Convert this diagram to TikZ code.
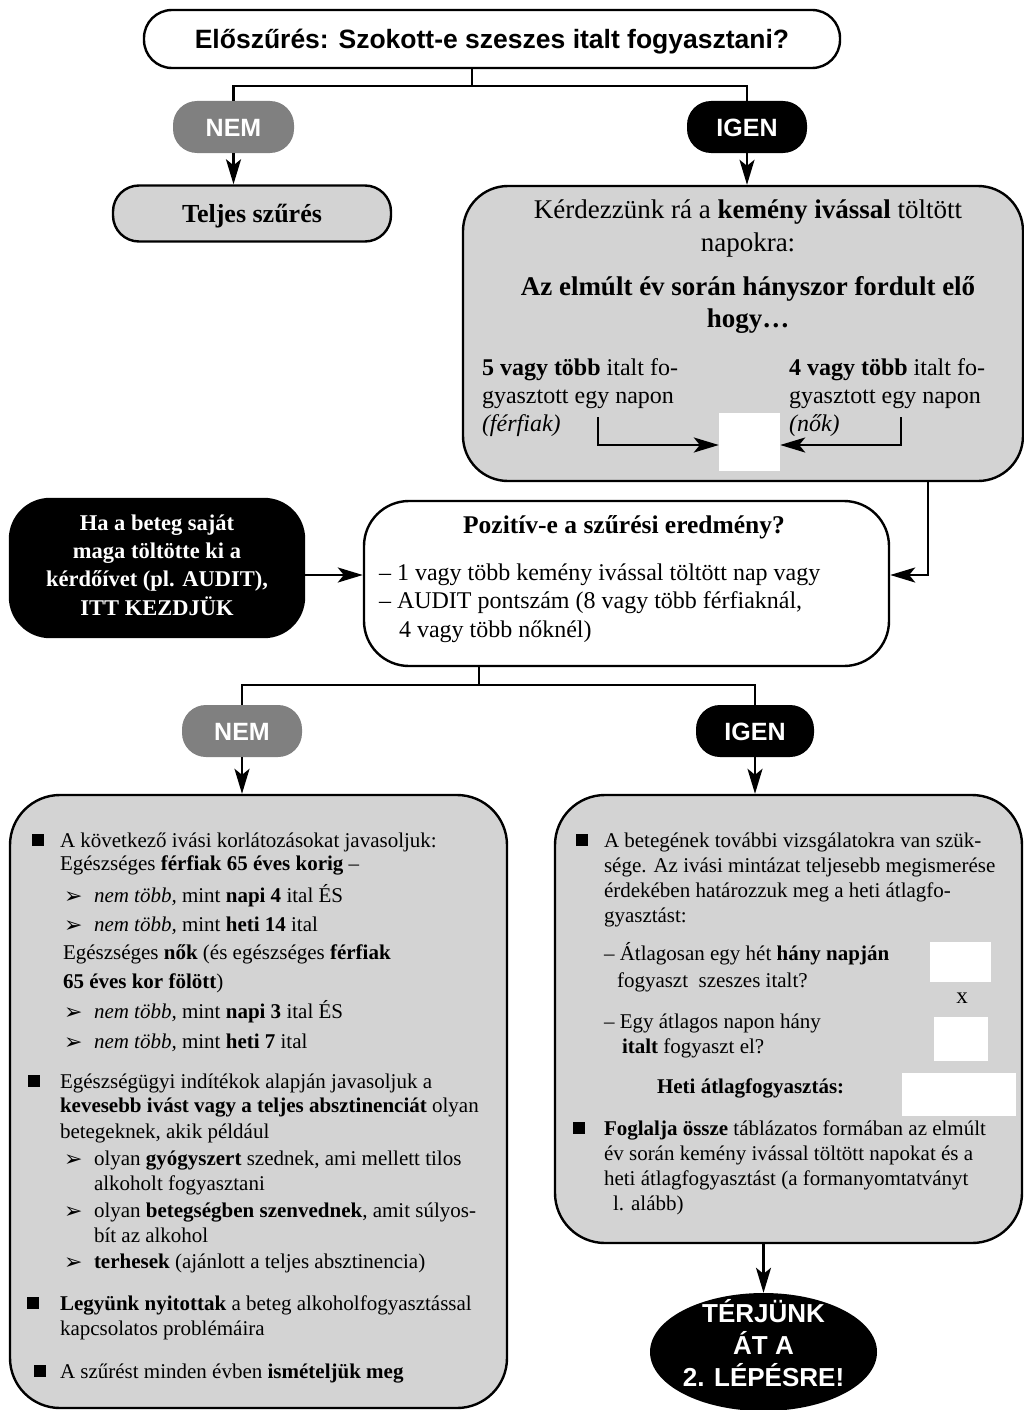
\documentclass[tikz,border=0pt]{standalone}
\usepackage{fontspec}
\setmainfont{Liberation Serif}
\setsansfont{Liberation Sans}
\newfontfamily\dvf{DejaVu Sans}
\usetikzlibrary{arrows.meta,shapes.geometric,calc}
\definecolor{boxgray}{HTML}{D3D3D3}
\definecolor{pillgray}{HTML}{808080}
\newcommand\fs[1]{\fontsize{#1}{#1}\selectfont}
\newcommand\mytx[4]{\node[L] (#1) at (#2,#3) {#4};}
\newcommand\myct[4]{\node[C] (#1) at (#2,#3) {#4};}
\newcommand\mybul[3]{\node[bul] (#1) at (#2,#3) {};}
\newcommand\myarr[3]{\node[L] (#1) at (#2,#3) {\dvf\fs{22}➢};}
\begin{document}
\begin{tikzpicture}[x=1pt,y=-1pt,
  shp/.style={draw=black, line width=2.4pt, inner sep=0pt},
  pill/.style={draw=none, rounded corners=24pt, minimum height=52pt, inner sep=0pt,
    text=white, font=\sffamily\bfseries\fs{25}, text height=18pt, text depth=0pt},
  wbox/.style={fill=white, draw=none, inner sep=0pt},
  ln/.style={line width=2.4pt},
  arr/.style={line width=2.4pt, -{Stealth[length=25pt,width=15pt,inset=6pt]}},
  L/.style={anchor=base west, inner sep=0pt, outer sep=0pt},
  C/.style={anchor=base, inner sep=0pt, outer sep=0pt},
  bul/.style={fill=black, draw=none, minimum size=12pt, inner sep=0pt}]
\useasboundingbox (0,0) rectangle (1024,1410);
\fill[white] (0,0) rectangle (1024,1410);

% ---------- shapes ----------
\node[shp, fill=white, rounded corners=28pt, minimum width=696pt, minimum height=58pt,
  font=\sffamily\bfseries\fs{26.5}, text height=19pt, text depth=0pt] (tb) at (492,39)
  {Előszűrés: Szokott-e szeszes italt fogyasztani?};
\node[pill, fill=pillgray, minimum width=121pt] (nem1) at (233.5,127) {NEM};
\node[pill, fill=black, minimum width=120pt] (igen1) at (747,127) {IGEN};
\node[shp, fill=boxgray, rounded corners=26pt, minimum width=278pt, minimum height=56pt,
  font=\bfseries\fs{26}, text height=17pt, text depth=0pt] (telj) at (252,213.5) {Teljes szűrés};
\node[shp, fill=boxgray, rounded corners=45pt, minimum width=560pt, minimum height=295pt] (kb) at (743,333.5) {};
\node[wbox, minimum width=61pt, minimum height=58pt] (sq) at (749.5,442) {};
\node[shp, fill=black, rounded corners=40pt, minimum width=294pt, minimum height=138pt] (bb) at (157,568) {};
\node[shp, fill=white, rounded corners=45pt, minimum width=525pt, minimum height=165pt] (poz) at (626.5,583.5) {};
\node[pill, fill=pillgray, minimum width=120pt] (nem2) at (242,731) {NEM};
\node[pill, fill=black, minimum width=118pt] (igen2) at (755,731) {IGEN};
\node[shp, fill=boxgray, rounded corners=50pt, minimum width=497pt, minimum height=613pt] (lb) at (258.5,1101.5) {};
\node[shp, fill=boxgray, rounded corners=50pt, minimum width=467pt, minimum height=448pt] (rb) at (788.5,1019) {};
\node[wbox, minimum width=61pt, minimum height=40pt] (w1) at (960.5,962) {};
\node[wbox, minimum width=54pt, minimum height=44pt] (w2) at (961,1039) {};
\node[wbox, minimum width=114pt, minimum height=43pt] (w3) at (959,1094.5) {};
\node[ellipse, fill=black, draw=none, minimum width=227pt, minimum height=118pt, inner sep=0pt] (ell) at (763.5,1352) {};

% ---------- connectors ----------
\coordinate (j1) at (472,86);
\draw[ln] (tb.south -| j1) -- (j1);
\draw[ln] (nem1.north) |- (j1) -| (igen1.north);
\draw[arr] (nem1.south) -- (nem1.south |- telj.north);
\draw[arr] (igen1.south) -- (igen1.south |- kb.north);
\coordinate (a1) at (598,417);
\coordinate (a2) at (901,417);
\draw[arr] (a1) |- ([yshift=-3pt]sq.west);
\draw[arr] (a2) |- ([yshift=-3pt]sq.east);
\coordinate (k1) at (928,575);
\draw[arr] (kb.south -| k1) -- (k1) -- (k1 -| poz.east);
\draw[arr] (bb.east |- k1) -- (poz.west |- k1);
\coordinate (j2) at (479,685);
\draw[ln] (poz.south -| j2) -- (j2);
\draw[ln] (nem2.north) |- (j2) -| (igen2.north);
\draw[arr] (nem2.south) -- (nem2.south |- lb.north);
\draw[arr] (igen2.south) -- (igen2.south |- rb.north);
\draw[arr] (rb.south -| ell.north) -- (ell.north);

% ---------- texts: screening question box ----------
\begin{scope}[font=\fs{27}]
\myct{kt1}{748}{218}{Kérdezzünk rá a \textbf{kemény ivással} töltött}
\myct{kt2}{748}{251}{napokra:}
\myct{kt3}{748}{295}{\textbf{Az elmúlt év során hányszor fordult elő}}
\myct{kt4}{748}{327}{\textbf{hogy…}}
\end{scope}
\begin{scope}[font=\fs{24}]
\mytx{kl1}{482}{375}{\textbf{5 vagy több} italt fo-}
\mytx{kl2}{482}{403}{gyasztott egy napon}
\mytx{kl3}{482}{431}{\textit{(férfiak)}}
\mytx{kr1}{789}{375}{\textbf{4 vagy több} italt fo-}
\mytx{kr2}{789}{403}{gyasztott egy napon}
\mytx{kr3}{789}{431}{\textit{(nők)}}
\end{scope}

% ---------- black box ----------
\begin{scope}[font=\bfseries\fs{22.5}, text=white]
\myct{bt1}{157}{530}{Ha a beteg saját}
\myct{bt2}{157}{558}{maga töltötte ki a}
\myct{bt3}{157}{586}{kérdőívet (pl. AUDIT),}
\myct{bt4}{157}{615}{ITT KEZDJÜK}
\end{scope}

% ---------- positive box ----------
\myct{pt0}{624}{533}{\bfseries\fs{25.5}Pozitív-e a szűrési eredmény?}
\begin{scope}[font=\fs{24}]
\mytx{pt1}{379}{580}{– 1 vagy több kemény ivással töltött nap vagy}
\mytx{pt2}{379}{608}{– AUDIT pontszám (8 vagy több férfiaknál,}
\mytx{pt3}{399}{637}{4 vagy több nőknél)}
\end{scope}

% ---------- left bottom box ----------
\begin{scope}[font=\fs{21}]
\mybul{lb1}{37.5}{840}
\mytx{l1}{60}{847}{A következő ivási korlátozásokat javasoljuk:}
\mytx{l2}{60}{870}{Egészséges \textbf{férfiak 65 éves korig} –}
\myarr{la1}{64}{903}
\mytx{l3}{94}{902}{\textit{nem több,} mint \textbf{napi 4} ital ÉS}
\myarr{la2}{64}{932}
\mytx{l4}{94}{931}{\textit{nem több,} mint \textbf{heti 14} ital}
\mytx{l5}{63}{959}{Egészséges \textbf{nők} (és egészséges \textbf{férfiak}}
\mytx{l6}{63}{988}{\textbf{65 éves kor fölött})}
\myarr{la3}{64}{1019}
\mytx{l7}{94}{1018}{\textit{nem több,} mint \textbf{napi 3} ital ÉS}
\myarr{la4}{64}{1049}
\mytx{l8}{94}{1048}{\textit{nem több,} mint \textbf{heti 7} ital}
\mybul{lb2}{34}{1081}
\mytx{l9}{60}{1088}{Egészségügyi indítékok alapján javasoljuk a}
\mytx{l10}{60}{1112}{\textbf{kevesebb ivást vagy a teljes absztinenciát} olyan}
\mytx{l11}{60}{1138}{betegeknek, akik például}
\myarr{la5}{64}{1166}
\mytx{l12}{94}{1165}{olyan \textbf{gyógyszert} szednek, ami mellett tilos}
\mytx{l13}{94}{1190}{alkoholt fogyasztani}
\myarr{la6}{64}{1218}
\mytx{l14}{94}{1217}{olyan \textbf{betegségben szenvednek}, amit súlyos-}
\mytx{l15}{94}{1242}{bít az alkohol}
\myarr{la7}{64}{1269}
\mytx{l16}{94}{1268}{\textbf{terhesek} (ajánlott a teljes absztinencia)}
\mybul{lb3}{33}{1303}
\mytx{l17}{60}{1310}{\textbf{Legyünk nyitottak} a beteg alkoholfogyasztással}
\mytx{l18}{60}{1335}{kapcsolatos problémáira}
\mybul{lb4}{40}{1371}
\mytx{l19}{60}{1378}{A szűrést minden évben \textbf{ismételjük meg}}
\end{scope}

% ---------- right bottom box ----------
\begin{scope}[font=\fs{21}]
\mybul{rb1}{582}{840}
\mytx{r1}{604}{847}{A betegének további vizsgálatokra van szük-}
\mytx{r2}{604}{872}{sége. Az ivási mintázat teljesebb megismerése}
\mytx{r3}{604}{897}{érdekében határozzuk meg a heti átlagfo-}
\mytx{r4}{604}{922}{gyasztást:}
\mytx{r5}{604}{960}{– Átlagosan egy hét \textbf{hány napján}}
\mytx{r6}{617}{987}{fogyaszt\ \ szeszes italt?}
\myct{rx}{962}{1003}{\fs{23}x}
\mytx{r7}{604}{1028}{– Egy átlagos napon hány}
\mytx{r8}{622}{1053}{\textbf{italt} fogyaszt el?}
\mytx{r9}{657}{1093}{\textbf{Heti átlagfogyasztás:}}
\mybul{rb2}{579}{1128}
\mytx{r10}{604}{1135}{\textbf{Foglalja össze} táblázatos formában az elmúlt}
\mytx{r11}{604}{1160}{év során kemény ivással töltött napokat és a}
\mytx{r12}{604}{1185}{heti átlagfogyasztást (a formanyomtatványt}
\mytx{r13}{613}{1210}{l. alább)}
\end{scope}

% ---------- ellipse text ----------
\begin{scope}[font=\sffamily\bfseries\fs{26}, text=white]
\myct{e1}{763.5}{1322}{TÉRJÜNK}
\myct{e2}{763.5}{1354}{ÁT A}
\myct{e3}{763.5}{1386}{2. LÉPÉSRE!}
\end{scope}
\end{tikzpicture}
\end{document}
